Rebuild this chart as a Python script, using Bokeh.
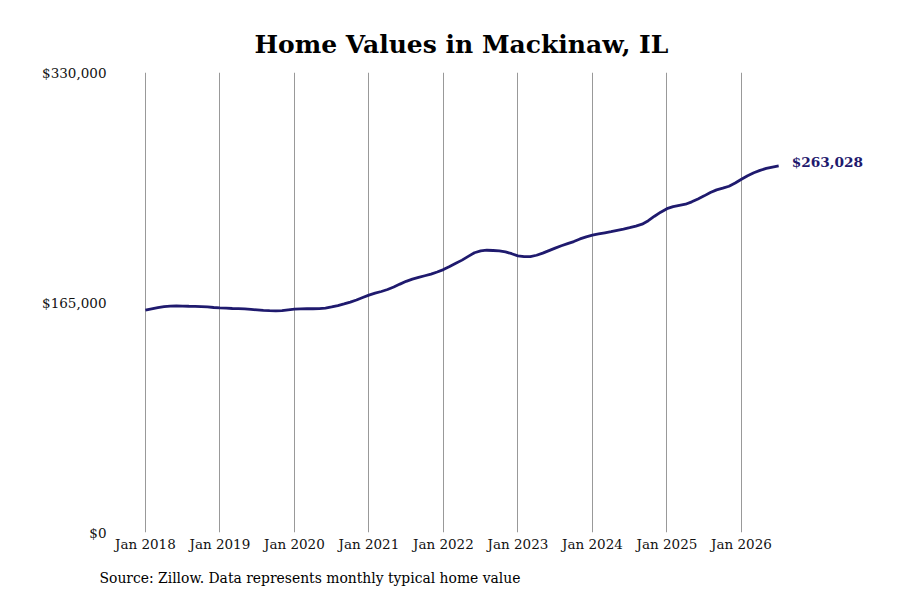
from bokeh.plotting import figure
from bokeh.models import FixedTicker, Label, Range1d, Title
from bokeh.embed import file_html
from bokeh.resources import INLINE

# typical home value, monthly, Jan 2018 .. Jul 2026
home_values = [
    159500, 160400, 161300, 162000, 162400, 162500, 162400, 162300, 162250, 162100, 161800, 161400,
    161100, 160900, 160700, 160600, 160400, 160100, 159700, 159300, 159100, 159000, 159200, 159700,
    160200, 160400, 160500, 160500, 160600, 161000, 161800, 162800, 164000, 165300, 166800, 168600,
    170300, 171700, 172900, 174300, 176100, 178200, 180200, 181800, 183000, 184200, 185400, 186900,
    188600, 190800, 193100, 195400, 198100, 200700, 202000, 202500, 202300, 202000, 201300, 200000,
    198500, 197900, 197900, 198900, 200400, 202200, 204000, 205700, 207200, 208700, 210600, 212100,
    213300, 214200, 215000, 215800, 216800, 217700, 218700, 219800, 221200, 223700, 226900, 229800,
    232300, 233800, 234700, 235500, 237200, 239300, 241500, 243900, 245800, 247000, 248400, 250700,
    253400, 255900, 258100, 259800, 261200, 262200, 263028,
]
month_index = list(range(len(home_values)))

year_ticks = [0, 12, 24, 36, 48, 60, 72, 84, 96]
year_labels = ["Jan 2018", "Jan 2019", "Jan 2020", "Jan 2021", "Jan 2022",
               "Jan 2023", "Jan 2024", "Jan 2025", "Jan 2026"]
value_ticks = [0, 165000, 330000]
value_labels = ["$0", "$165,000", "$330,000"]

FONT = "DejaVu Serif"
LINE_COLOR = "#1f1a6e"

# frame runs wide on the right so the end label is not clipped
p = figure(width=884, height=599, output_backend="svg", toolbar_location=None,
           x_range=Range1d(-5.3, 118.4), y_range=Range1d(0, 330000),
           min_border_left=112, min_border_right=4, min_border_top=72, min_border_bottom=66)
p.outline_line_color = None
p.background_fill_color = "white"

p.title.text = "Home Values in Mackinaw, IL"
p.title.align = "left"
p.title.offset = 142
p.title.text_font = FONT
p.title.text_font_size = "25px"
p.title.text_font_style = "bold"
p.title.text_color = "black"
p.title.standoff = 27

p.line(month_index, home_values, line_color=LINE_COLOR, line_width=2.8)

p.xaxis.ticker = FixedTicker(ticks=year_ticks)
p.xaxis.major_label_overrides = dict(zip(year_ticks, year_labels))
p.yaxis.ticker = FixedTicker(ticks=value_ticks)
p.yaxis.major_label_overrides = dict(zip(value_ticks, value_labels))

for ax in (p.xaxis[0], p.yaxis[0]):
    ax.axis_line_color = None
    ax.major_tick_line_color = None
    ax.minor_tick_line_color = None
    ax.major_label_text_font = FONT
    ax.major_label_text_font_size = "13.5px"
    ax.major_label_text_color = "#111111"
p.xaxis.major_label_standoff = -3
p.yaxis.major_label_standoff = 0

p.xgrid.grid_line_color = "#999999"
p.xgrid.grid_line_width = 1
p.ygrid.grid_line_color = None

p.add_layout(Label(x=month_index[-1], y=home_values[-1], text="${:,}".format(home_values[-1]),
                   x_offset=13, y_offset=4, text_baseline="middle",
                   text_font=FONT, text_font_size="13.7px", text_font_style="bold",
                   text_color=LINE_COLOR))

p.add_layout(Title(text="Source: Zillow. Data represents monthly typical home value",
                   align="left", offset=-13, standoff=27, text_font=FONT,
                   text_font_size="13.9px", text_font_style="normal", text_color="black"),
             "below")

open("out.html", "w").write(file_html(p, INLINE))
